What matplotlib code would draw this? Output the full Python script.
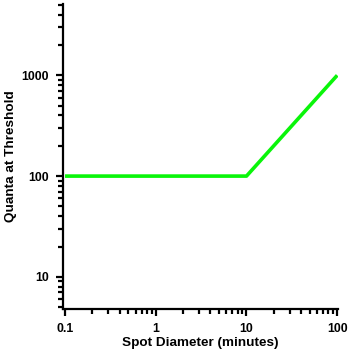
import matplotlib
matplotlib.use("Agg")
import matplotlib.pyplot as plt
from matplotlib.ticker import LogLocator, NullFormatter

plt.rcParams['font.family'] = ['Liberation Sans', 'DejaVu Sans']

spot_diameter = [0.1, 10, 100]
quanta = [100, 100, 1000]
x_ticks = [0.1, 1, 10, 100]
x_tick_labels = ["0.1", "1", "10", "100"]
y_ticks = [10, 100, 1000]
y_tick_labels = ["10", "100", "1000"]

fig = plt.figure(figsize=(3.51, 3.56), dpi=100)
ax = fig.add_axes([63/351, 1 - 309/356, (338-63)/351, (309-4)/356])
ax.plot(spot_diameter, quanta, color='#0af50a', lw=2.6, solid_capstyle='butt')
ax.set_xscale('log')
ax.set_yscale('log')
ax.set_xlim(0.095, 102)
ax.set_ylim(4.8, 5100)
ax.set_xticks(x_ticks)
ax.set_xticklabels(x_tick_labels)
ax.set_yticks(y_ticks)
ax.set_yticklabels(y_tick_labels)
ax.xaxis.set_minor_locator(LogLocator(base=10, subs=range(2, 10)))
ax.yaxis.set_minor_locator(LogLocator(base=10, subs=range(2, 10)))
ax.xaxis.set_minor_formatter(NullFormatter())
ax.yaxis.set_minor_formatter(NullFormatter())
for s in ['top', 'right']:
    ax.spines[s].set_visible(False)
for s in ['left', 'bottom']:
    ax.spines[s].set_linewidth(1.6)
ax.tick_params(which='major', length=5, width=1.6, labelsize=8.8, pad=5)
ax.tick_params(which='minor', length=3.5, width=1.6)
for lab in ax.get_xticklabels() + ax.get_yticklabels():
    lab.set_fontweight('bold')
ax.set_xlabel('Spot Diameter (minutes)', fontsize=9.7, fontweight='bold')
ax.set_ylabel('Quanta at Threshold', fontsize=9.7, fontweight='bold')
ax.xaxis.set_label_coords(0.5, (309 - 337) / 305)
ax.yaxis.set_label_coords((17 - 63) / 275, 0.5)
fig.savefig('out.png', dpi=100)
